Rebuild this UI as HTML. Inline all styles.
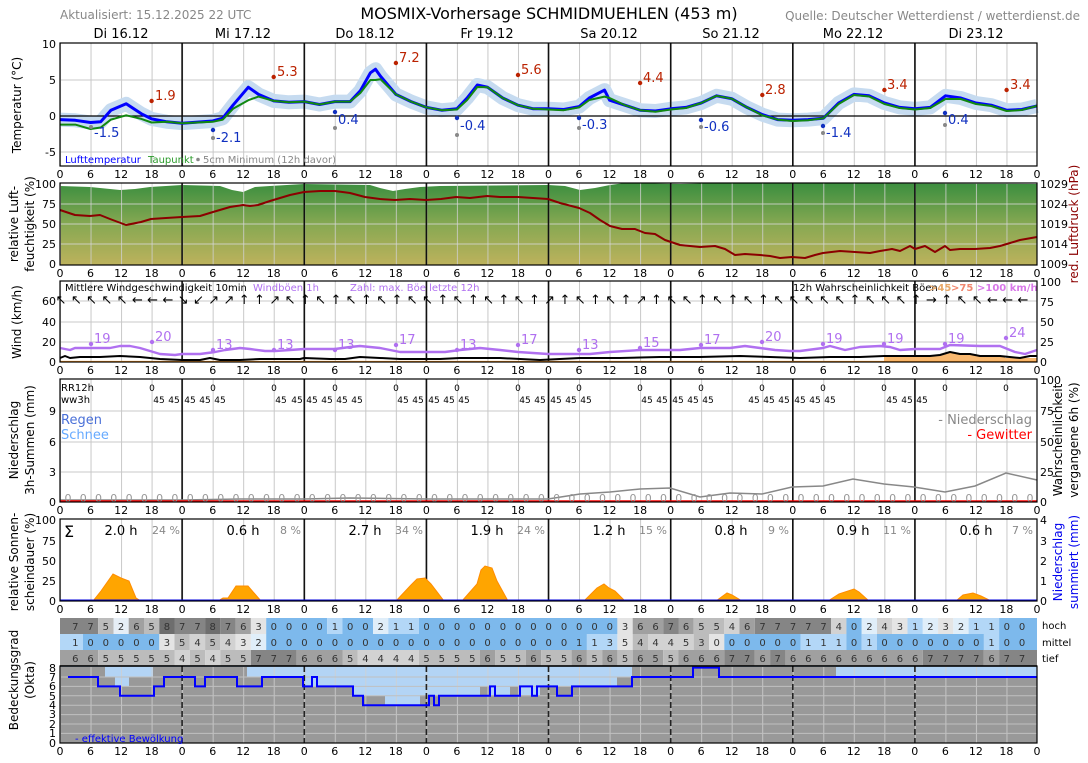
<!DOCTYPE html>
<html><head><meta charset="utf-8"><style>
html,body{margin:0;padding:0;background:#fff}
svg{display:block;font-family:"DejaVu Sans","Liberation Sans",sans-serif}
.t{font-size:11px;fill:#000}
</style></head><body>
<svg width="1088" height="763" viewBox="0 0 1088 763" xmlns="http://www.w3.org/2000/svg">
<defs>
<pattern id="vg" x="60" y="0" width="30.531" height="763" patternUnits="userSpaceOnUse"><line x1="0.5" y1="0" x2="0.5" y2="763" stroke="#c8c8c8" stroke-width="1"/></pattern>
<pattern id="vgw" x="60" y="0" width="30.531" height="763" patternUnits="userSpaceOnUse"><line x1="0.5" y1="0" x2="0.5" y2="763" stroke="#d0d0d0" stroke-opacity="0.8" stroke-width="1"/></pattern>
<linearGradient id="hg" x1="0" y1="0" x2="0" y2="1"><stop offset="0" stop-color="#3b8e3f"/><stop offset="0.5" stop-color="#86a852"/><stop offset="1" stop-color="#bdb25c"/></linearGradient>
<g id="ticks" class="t" text-anchor="middle">
<text x="60">0</text><text x="90.5">6</text><text x="121.1">12</text><text x="151.6">18</text><text x="182.1">0</text><text x="212.7">6</text><text x="243.2">12</text><text x="273.7">18</text><text x="304.2">0</text><text x="334.8">6</text><text x="365.3">12</text><text x="395.8">18</text><text x="426.4">0</text><text x="456.9">6</text><text x="487.4">12</text><text x="518">18</text><text x="548.5">0</text><text x="579">6</text><text x="609.5">12</text><text x="640.1">18</text><text x="670.6">0</text><text x="701.1">6</text><text x="731.7">12</text><text x="762.2">18</text><text x="792.7">0</text><text x="823.3">6</text><text x="853.8">12</text><text x="884.3">18</text><text x="914.8">0</text><text x="945.4">6</text><text x="975.9">12</text><text x="1006.4">18</text><text x="1037">0</text>
</g>
<g id="days" stroke="#111" stroke-width="1.6">
<line x1="182.1" y1="0" x2="182.1" y2="1"/>
</g>
</defs>

<!-- header -->
<text x="60" y="19" font-size="12" fill="#888">Aktualisiert: 15.12.2025 22 UTC</text>
<text x="549" y="19" font-size="16" text-anchor="middle" fill="#000">MOSMIX-Vorhersage SCHMIDMUEHLEN (453 m)</text>
<text x="1080" y="20" font-size="12" fill="#888" text-anchor="end">Quelle: Deutscher Wetterdienst / wetterdienst.de</text>
<g font-size="13" text-anchor="middle" fill="#000">
<text x="121" y="38">Di 16.12</text><text x="243" y="38">Mi 17.12</text><text x="365" y="38">Do 18.12</text><text x="487" y="38">Fr 19.12</text><text x="609" y="38">Sa 20.12</text><text x="731" y="38">So 21.12</text><text x="853" y="38">Mo 22.12</text><text x="976" y="38">Di 23.12</text>
</g>

<!-- axis titles left -->
<g font-size="12" text-anchor="middle" fill="#000">
<text transform="translate(21,105) rotate(-90)">Temperatur (°C)</text>
<text transform="translate(18,224) rotate(-90)">relative Luft-</text>
<text transform="translate(34,224) rotate(-90)">feuchtigkeit (%)</text>
<text transform="translate(21,322) rotate(-90)">Wind (km/h)</text>
<text transform="translate(18,440) rotate(-90)">Niederschlag</text>
<text transform="translate(34,440) rotate(-90)">3h-Summen (mm)</text>
<text transform="translate(18,562) rotate(-90)">relative Sonnen-</text>
<text transform="translate(34,562) rotate(-90)">scheindauer (%)</text>
<text transform="translate(18,680) rotate(-90)">Bedeckungsgrad</text>
<text transform="translate(34,680) rotate(-90)">(Okta)</text>
<text transform="translate(1078,224) rotate(-90)" fill="#8b0000">red. Luftdruck (hPa)</text>
<text transform="translate(1062,440) rotate(-90)">Wahrscheinlichkeit</text>
<text transform="translate(1078,440) rotate(-90)">vergangene 6h (%)</text>
<text transform="translate(1062,562) rotate(-90)" fill="#0000ee">Niederschlag</text>
<text transform="translate(1078,562) rotate(-90)" fill="#0000ee">summiert (mm)</text>
</g>

<!-- ===== Temperature panel ===== -->
<rect x="60" y="43" width="977" height="123" fill="url(#vg)"/>
<g stroke="#c8c8c8"><line x1="60" y1="80" x2="1037" y2="80"/><line x1="60" y1="152" x2="1037" y2="152"/></g>
<polyline fill="none" stroke="#c6dbf0" stroke-width="14" stroke-linejoin="round" points="60,119.6 75.3,120.3 90.5,122.5 100.7,121.8 110.9,110.2 126.2,103.8 141.4,113.8 151.6,118.9 166.9,121.8 182.1,123.2 212.7,121 222.8,118.2 233,105.2 248.3,87.2 258.5,94.4 273.7,100.9 289,102.3 304.3,101.6 319.5,104.5 334.8,101.6 350.1,101.6 360.3,90.8 370.4,72.8 375.5,69.2 380.6,76.4 395.9,94.4 411.1,101.6 426.4,107.4 441.7,110.2 456.9,108.8 467.1,98 477.3,85 487.5,87.2 502.7,98 518,105.2 533.3,108.8 548.5,108.8 563.8,109.5 579.1,106.6 589.3,98 604.5,90.1 609.6,100.2 624.9,105.2 640.1,110.2 655.4,111 670.7,108.8 686,107.4 701.2,103 716.5,95.8 731.7,98.7 747,107.4 762.3,114.6 777.5,119.6 792.8,120.3 808.1,119.6 823.4,118.2 838.6,103 853.9,94.4 869.2,95.8 884.4,103 899.7,107.4 914.9,108.8 930.2,107.4 945.5,95.8 960.8,98 976,103 991.3,105.2 1006.6,110.2 1021.8,109.5 1037,105.9"/>
<line x1="60" y1="116" x2="1037" y2="116" stroke="#000" stroke-width="1.2"/>
<g stroke="#111" stroke-width="1.6"><line x1="182.1" y1="43" x2="182.1" y2="166"/><line x1="304.3" y1="43" x2="304.3" y2="166"/><line x1="426.4" y1="43" x2="426.4" y2="166"/><line x1="548.5" y1="43" x2="548.5" y2="166"/><line x1="670.7" y1="43" x2="670.7" y2="166"/><line x1="792.8" y1="43" x2="792.8" y2="166"/><line x1="914.9" y1="43" x2="914.9" y2="166"/></g>
<polyline fill="none" stroke="#0000ff" stroke-width="3" stroke-linejoin="round" points="60,119.6 75.3,120.3 90.5,122.5 100.7,121.8 110.9,110.2 126.2,103.8 141.4,113.8 151.6,118.9 166.9,121.8 182.1,123.2 212.7,121 222.8,118.2 233,105.2 248.3,87.2 258.5,94.4 273.7,100.9 289,102.3 304.3,101.6 319.5,104.5 334.8,101.6 350.1,101.6 360.3,90.8 370.4,72.8 375.5,69.2 380.6,76.4 395.9,94.4 411.1,101.6 426.4,107.4 441.7,110.2 456.9,108.8 467.1,98 477.3,85 487.5,87.2 502.7,98 518,105.2 533.3,108.8 548.5,108.8 563.8,109.5 579.1,106.6 589.3,98 604.5,90.1 609.6,100.2 624.9,105.2 640.1,110.2 655.4,111 670.7,108.8 686,107.4 701.2,103 716.5,95.8 731.7,98.7 747,107.4 762.3,114.6 777.5,119.6 792.8,120.3 808.1,119.6 823.4,118.2 838.6,103 853.9,94.4 869.2,95.8 884.4,103 899.7,107.4 914.9,108.8 930.2,107.4 945.5,95.8 960.8,98 976,103 991.3,105.2 1006.6,110.2 1021.8,109.5 1037,105.9"/>
<polyline fill="none" stroke="#118811" stroke-width="2" stroke-linejoin="round" points="60,124.6 75.3,124.6 90.5,129 100.7,127.5 110.9,119.6 126.2,115.3 141.4,118.9 151.6,122.5 166.9,121.8 182.1,123.2 212.7,121.8 222.8,119.6 233,108.8 248.3,100.2 258.5,96.6 273.7,100.9 289,102.3 304.3,101.6 319.5,104.5 334.8,101.6 350.1,101.6 360.3,93 370.4,80 375.5,80 380.6,79.3 395.9,94.4 411.1,101.6 426.4,107.4 441.7,110.2 456.9,109.5 467.1,100 477.3,87 487.5,87.2 502.7,98 518,105.2 533.3,108.8 548.5,109.5 563.8,110.2 579.1,107.4 589.3,100 604.5,96.6 609.6,98 624.9,105.2 640.1,110.2 655.4,111.7 670.7,109.5 686,108 701.2,103 716.5,95.8 731.7,98.7 747,107.4 762.3,115.3 777.5,119.6 792.8,121 808.1,120.3 823.4,118.2 838.6,104 853.9,95 869.2,96.5 884.4,104 899.7,108 914.9,109.5 930.2,108 945.5,99 960.8,99 976,104 991.3,106 1006.6,111 1021.8,110 1037,105.9"/>
<!-- max points -->
<g fill="#bb2200" font-size="13">
<circle cx="151.6" cy="101" r="2.2"/><text x="155" y="100">1.9</text>
<circle cx="273.7" cy="77" r="2.2"/><text x="277" y="76">5.3</text>
<circle cx="395.9" cy="63" r="2.2"/><text x="399" y="62">7.2</text>
<circle cx="518" cy="75" r="2.2"/><text x="521" y="74">5.6</text>
<circle cx="640.1" cy="83" r="2.2"/><text x="643" y="82">4.4</text>
<circle cx="762.3" cy="95" r="2.2"/><text x="765" y="94">2.8</text>
<circle cx="884.4" cy="90" r="2.2"/><text x="887" y="89">3.4</text>
<circle cx="1006.6" cy="90" r="2.2"/><text x="1010" y="89">3.4</text>
</g>
<g fill="#888"><circle cx="91" cy="127" r="2"/><circle cx="213" cy="138" r="2"/><circle cx="335" cy="128" r="2"/><circle cx="457" cy="135" r="2"/><circle cx="579" cy="128" r="2"/><circle cx="701" cy="127" r="2"/><circle cx="823" cy="133" r="2"/><circle cx="945" cy="125" r="2"/></g>
<g fill="#1030c0" font-size="13">
<text x="94" y="137">-1.5</text>
<circle cx="213" cy="130" r="2.2"/><text x="216" y="142">-2.1</text>
<circle cx="335" cy="112" r="2.2"/><text x="338" y="124">0.4</text>
<circle cx="457" cy="118" r="2.2"/><text x="460" y="130">-0.4</text>
<circle cx="579" cy="118" r="2.2"/><text x="582" y="129">-0.3</text>
<circle cx="701" cy="120" r="2.2"/><text x="704" y="131">-0.6</text>
<circle cx="823" cy="126" r="2.2"/><text x="826" y="137">-1.4</text>
<circle cx="945" cy="113" r="2.2"/><text x="948" y="124">0.4</text>
</g>
<text x="65" y="163" font-size="10" fill="#0000ff">Lufttemperatur</text>
<text x="148" y="163" font-size="10" fill="#2a9a2a">Taupunkt</text>
<circle cx="198" cy="159.5" r="1.8" fill="#888"/>
<text x="203" y="163" font-size="10" fill="#888">5cm Minimum (12h davor)</text>
<rect x="60" y="43" width="977" height="123" fill="none" stroke="#000" stroke-width="1.2"/>
<g class="t" text-anchor="end"><text x="56" y="48">10</text><text x="56" y="84">5</text><text x="56" y="120">0</text><text x="56" y="156">-5</text></g>
<use href="#ticks" y="178"/>

<!-- ===== Humidity panel ===== -->
<rect x="60" y="183" width="977" height="82" fill="url(#hg)"/>
<polygon fill="#fff" points="60,183 60,186 90,187 120,190 135,189 150,187 182,185 220,186 232,190 243,192 255,187 270,186 304,184 370,185 380,188 393,191 405,189 420,187 440,186 548,185 565,186 580,190 595,188 610,185 625,183 680,184 720,183 1037,184 1037,183"/>
<rect x="60" y="183" width="977" height="82" fill="url(#vgw)"/>
<g stroke="#d8d8d8" stroke-opacity="0.8"><line x1="60" y1="204" x2="1037" y2="204"/><line x1="60" y1="224" x2="1037" y2="224"/><line x1="60" y1="244" x2="1037" y2="244"/></g>
<g stroke="#111" stroke-width="1.6"><line x1="182.1" y1="183" x2="182.1" y2="265"/><line x1="304.3" y1="183" x2="304.3" y2="265"/><line x1="426.4" y1="183" x2="426.4" y2="265"/><line x1="548.5" y1="183" x2="548.5" y2="265"/><line x1="670.7" y1="183" x2="670.7" y2="265"/><line x1="792.8" y1="183" x2="792.8" y2="265"/><line x1="914.9" y1="183" x2="914.9" y2="265"/></g>
<polyline fill="none" stroke="#8b0000" stroke-width="2" stroke-linejoin="round" points="60,210 75,215 90,216 100,215 110,219 126,225 141,222 151,219 166,218 182,217 200,216 213,212 230,207 243,205 250,206 258,205 270,201 290,195 304,192 320,191 335,191 350,193 365,197 380,199 395,200 410,199 426,200 441,199 456,197 470,198 487,196 500,197 518,197 533,198 548,199 560,203 579,208 590,213 600,220 610,226 622,229 635,229 645,233 655,234 665,240 680,245 700,247 715,246 725,249 735,255 745,254 760,255 770,256 780,258 792,257 805,258 815,255 823,253 840,251 855,252 870,253 880,251 892,249 900,251 910,246 915,249 925,246 935,252 945,246 950,250 960,249 975,249 990,248 1000,246 1020,240 1037,237"/>
<rect x="60" y="183" width="977" height="82" fill="none" stroke="#000" stroke-width="1.2"/>
<g class="t" text-anchor="end"><text x="56" y="188">100</text><text x="56" y="208">75</text><text x="56" y="228">50</text><text x="56" y="248">25</text><text x="56" y="268">0</text></g>
<g class="t"><text x="1040" y="188">1029</text><text x="1040" y="208">1024</text><text x="1040" y="228">1019</text><text x="1040" y="248">1014</text><text x="1040" y="268">1009</text></g>
<use href="#ticks" y="277"/>

<!-- ===== Wind panel ===== -->
<rect x="60" y="281" width="977" height="81" fill="url(#vg)"/>
<g stroke="#c8c8c8"><line x1="60" y1="301" x2="1037" y2="301"/><line x1="60" y1="322" x2="1037" y2="322"/><line x1="60" y1="342" x2="1037" y2="342"/></g>
<g stroke="#111" stroke-width="1.6"><line x1="182.1" y1="281" x2="182.1" y2="362"/><line x1="304.3" y1="281" x2="304.3" y2="362"/><line x1="426.4" y1="281" x2="426.4" y2="362"/><line x1="548.5" y1="281" x2="548.5" y2="362"/><line x1="670.7" y1="281" x2="670.7" y2="362"/><line x1="792.8" y1="281" x2="792.8" y2="362"/><line x1="914.9" y1="281" x2="914.9" y2="362"/></g>
<polygon fill="#f8b870" points="884,362 884,357 914,357 940,356 950,353 960,354 975,355 1005,356 1005,358 1037,358 1037,362"/>
<line x1="60" y1="361.5" x2="1037" y2="361.5" stroke="#ff9922" stroke-width="1.2"/>
<polyline fill="none" stroke="#b070f0" stroke-width="2.4" stroke-linejoin="round" points="60,348 70,350 75,348 90,348 110,348 120,346 130,346 140,348 150,351 160,354 175,355 182,354 200,354 215,352 225,350 240,348 250,349 265,351 275,351 290,350 304,349 335,349 350,347 360,346 380,348 400,352 426,352 445,352 460,350 480,348 500,350 518,352 548,354 570,354 590,354 610,352 640,350 660,350 680,350 700,348 730,348 745,346 760,348 775,350 790,351 800,351 823,348 830,346 845,350 860,347 880,346 890,347 900,350 915,349 940,349 950,345 980,346 1000,346 1015,352 1025,354 1037,350"/>
<polyline fill="none" stroke="#000" stroke-width="2" stroke-linejoin="round" points="60,358 65,356 70,358 80,357 100,357 120,356 140,357 160,359 182,360 200,360 210,358 220,360 240,360 260,359 300,359 304,358 330,359 345,359 360,357 380,358 400,359 426,359 440,359 460,358 500,358 540,360 580,358 620,358 660,357 700,357 740,356 770,357 800,358 830,357 860,357 884,356 914,356 930,356 940,355 950,352 960,354 970,354 980,356 1000,356 1020,358 1030,356 1037,356"/>
<g fill="#b070f0" font-size="13">
<circle cx="91" cy="344" r="2.2"/><text x="94" y="343">19</text>
<circle cx="152" cy="342" r="2.2"/><text x="155" y="341">20</text>
<circle cx="213" cy="350" r="2.2"/><text x="216" y="349">13</text>
<circle cx="274" cy="350" r="2.2"/><text x="277" y="349">13</text>
<circle cx="335" cy="350" r="2.2"/><text x="338" y="349">13</text>
<circle cx="396" cy="345" r="2.2"/><text x="399" y="344">17</text>
<circle cx="457" cy="350" r="2.2"/><text x="460" y="349">13</text>
<circle cx="518" cy="345" r="2.2"/><text x="521" y="344">17</text>
<circle cx="579" cy="350" r="2.2"/><text x="582" y="349">13</text>
<circle cx="640" cy="348" r="2.2"/><text x="643" y="347">15</text>
<circle cx="701" cy="345" r="2.2"/><text x="704" y="344">17</text>
<circle cx="762" cy="342" r="2.2"/><text x="765" y="341">20</text>
<circle cx="823" cy="344" r="2.2"/><text x="826" y="343">19</text>
<circle cx="884" cy="344" r="2.2"/><text x="887" y="343">19</text>
<circle cx="945" cy="344" r="2.2"/><text x="948" y="343">19</text>
<circle cx="1006" cy="338" r="2.2"/><text x="1009" y="337">24</text>
</g>
<text font-size="13" fill="#000" text-anchor="middle" y="304" x="61 76.3 91.5 106.8 122.1 137.4 152.6 167.9 183.2 198.4 213.7 229 244.2 259.5 274.8 290.1 305.3 320.6 335.9 351.1 366.4 381.7 396.9 412.2 427.5 442.8 458 473.3 488.6 503.8 519.1 534.4 549.6 564.9 580.2 595.5 610.7 626 641.3 656.5 671.8 687.1 702.3 717.6 732.9 748.2 763.4 778.7 794 809.2 824.5 839.8 855 870.3 885.6 900.9 916.1 931.4 946.7 961.9 977.2 992.5 1007.7 1023">↖↖↖↖↖←←←↘↙↗↗↑↑↗↖↑↖↑↖↑↖↑↖↖↑↖↑↖↑↖↑↗↑↖↑↖↑↗↑↖↖↑↖↑↖↑↖↖↖↖↖↑↖↖↖↑→↑↖↖←←←</text>
<text x="65" y="291" font-size="10" fill="#000">Mittlere Windgeschwindigkeit 10min</text>
<text x="253" y="291" font-size="10" fill="#b070f0">Windböen 1h</text>
<text x="350" y="291" font-size="10" fill="#b070f0">Zahl: max. Böe letzte 12h</text>
<text x="793" y="291" font-size="10" fill="#000">12h Wahrscheinlichkeit Böen</text>
<text x="929" y="291" font-size="10" font-weight="bold" fill="#e8a868">&gt;45</text>
<text x="951" y="291" font-size="10" font-weight="bold" fill="#f08870">&gt;75</text>
<text x="977" y="291" font-size="10" font-weight="bold" fill="#d878e8">&gt;100 km/h</text>
<rect x="60" y="281" width="977" height="81" fill="none" stroke="#000" stroke-width="1.2"/>
<g class="t" text-anchor="end"><text x="56" y="305">60</text><text x="56" y="326">40</text><text x="56" y="346">20</text><text x="56" y="366">0</text></g>
<g class="t"><text x="1040" y="286">100</text><text x="1040" y="306">75</text><text x="1040" y="326">50</text><text x="1040" y="346">25</text><text x="1040" y="366">0</text></g>
<use href="#ticks" y="374"/>

<!-- ===== Precip panel ===== -->
<rect x="60" y="379" width="977" height="123" fill="url(#vg)"/>
<g stroke="#c8c8c8"><line x1="60" y1="411" x2="1037" y2="411"/><line x1="60" y1="442" x2="1037" y2="442"/><line x1="60" y1="472" x2="1037" y2="472"/></g>
<g stroke="#111" stroke-width="1.6"><line x1="182.1" y1="379" x2="182.1" y2="502"/><line x1="304.3" y1="379" x2="304.3" y2="502"/><line x1="426.4" y1="379" x2="426.4" y2="502"/><line x1="548.5" y1="379" x2="548.5" y2="502"/><line x1="670.7" y1="379" x2="670.7" y2="502"/><line x1="792.8" y1="379" x2="792.8" y2="502"/><line x1="914.9" y1="379" x2="914.9" y2="502"/></g>
<polyline fill="none" stroke="#888" stroke-width="1.5" points="60,500 182,500 240,499 304,499 350,498 426,499 548,499 580,494 610,492 640,489 670,488 700,497 730,493 762,494 792,487 823,486 853,479 884,484 914,487 945,492 975,486 1006,473 1037,480"/>
<line x1="60" y1="501" x2="1037" y2="501" stroke="#ff0000" stroke-width="1.5"/>
<text font-size="11" fill="#999" text-anchor="middle" y="502" x="68 83.3 98.5 113.8 129.1 144.4 159.6 174.9 190.2 205.4 220.7 236 251.2 266.5 281.8 297.1 312.3 327.6 342.9 358.1 373.4 388.7 403.9 419.2 434.5 449.8 465 480.3 495.6 510.8 526.1 541.4 556.6 571.9 587.2 602.5 617.7 633 648.3 663.5 678.8 694.1 709.3 724.6 739.9 755.2 770.4 785.7 801 816.2 831.5 846.8 862 877.3 892.6 907.9 923.1 938.4 953.7 968.9 984.2 999.5 1014.7 1030">0000000000000000000000000000000000000000000000000000000000000000</text>
<text x="61" y="391" font-size="10">RR12h</text>
<text x="61" y="403" font-size="10">ww3h</text>
<text font-size="9" text-anchor="middle" y="391" x="152 213 274 335 396 457 518 579 640 701 762 823 884 945 1006">000000000000000</text>
<g font-size="9" text-anchor="middle">
<text x="159" y="403">45</text><text x="174" y="403">45</text><text x="190" y="403">45</text><text x="205" y="403">45</text><text x="220" y="403">45</text>
<text x="281" y="403">45</text><text x="297" y="403">45</text><text x="312" y="403">45</text><text x="327" y="403">45</text><text x="342" y="403">45</text><text x="357" y="403">45</text>
<text x="403" y="403">45</text><text x="418" y="403">45</text><text x="434" y="403">45</text><text x="449" y="403">45</text><text x="464" y="403">45</text>
<text x="525" y="403">45</text><text x="540" y="403">45</text><text x="556" y="403">45</text><text x="571" y="403">45</text><text x="586" y="403">45</text>
<text x="647" y="403">45</text><text x="662" y="403">45</text><text x="678" y="403">45</text><text x="693" y="403">45</text><text x="708" y="403">45</text>
<text x="754" y="403">45</text><text x="769" y="403">45</text><text x="784" y="403">45</text><text x="800" y="403">45</text><text x="815" y="403">45</text><text x="830" y="403">45</text>
<text x="892" y="403">45</text><text x="907" y="403">45</text><text x="922" y="403">45</text>
</g>
<text x="61" y="424" font-size="13" fill="#4a70d8">Regen</text>
<text x="61" y="439" font-size="13" fill="#66aaff">Schnee</text>
<text x="1032" y="424" font-size="13" fill="#888" text-anchor="end">- Niederschlag</text>
<text x="1032" y="439" font-size="13" fill="#ff0000" text-anchor="end">- Gewitter</text>
<rect x="60" y="379" width="977" height="123" fill="none" stroke="#000" stroke-width="1.2"/>
<g class="t" text-anchor="end"><text x="56" y="415">9</text><text x="56" y="446">6</text><text x="56" y="476">3</text><text x="56" y="506">0</text></g>
<g class="t"><text x="1040" y="384">100</text><text x="1040" y="415">75</text><text x="1040" y="446">50</text><text x="1040" y="476">25</text><text x="1040" y="506">0</text></g>
<use href="#ticks" y="514"/>

<!-- ===== Sunshine panel ===== -->
<rect x="60" y="519" width="977" height="82" fill="url(#vg)"/>
<g stroke="#111" stroke-width="1.6"><line x1="182.1" y1="519" x2="182.1" y2="601"/><line x1="304.3" y1="519" x2="304.3" y2="601"/><line x1="426.4" y1="519" x2="426.4" y2="601"/><line x1="548.5" y1="519" x2="548.5" y2="601"/><line x1="670.7" y1="519" x2="670.7" y2="601"/><line x1="792.8" y1="519" x2="792.8" y2="601"/><line x1="914.9" y1="519" x2="914.9" y2="601"/></g>
<g fill="#ffa500" stroke="#ff8c00" stroke-width="1">
<polygon points="93,601 101,591 113,574 121,578 129,581 136,598 141,601"/>
<polygon points="218,601 223,598 228,598 236,586 248,586 261,601"/>
<polygon points="396,601 411,585 417,579 425,578 431,584 444,601"/>
<polygon points="462,601 477,584 481,570 485,566 492,568 497,581 508,601"/>
<polygon points="584,601 597,588 604,584 609,588 615,591 625,601"/>
<polygon points="716,601 727,593 732,595 742,601"/>
<polygon points="828,601 839,594 854,589 859,592 869,601"/>
<polygon points="956,601 963,595 973,593 981,596 991,601"/>
</g>
<line x1="60" y1="600.5" x2="1037" y2="600.5" stroke="#0000dd" stroke-width="2"/>
<text x="64" y="537" font-size="16">Σ</text>
<g font-size="13" text-anchor="middle"><text x="121" y="535">2.0 h</text><text x="243" y="535">0.6 h</text><text x="365" y="535">2.7 h</text><text x="487" y="535">1.9 h</text><text x="609" y="535">1.2 h</text><text x="731" y="535">0.8 h</text><text x="853" y="535">0.9 h</text><text x="976" y="535">0.6 h</text></g>
<g font-size="11" text-anchor="end" fill="#888"><text x="180" y="534">24 %</text><text x="301" y="534">8 %</text><text x="423" y="534">34 %</text><text x="545" y="534">24 %</text><text x="667" y="534">15 %</text><text x="789" y="534">9 %</text><text x="911" y="534">11 %</text><text x="1033" y="534">7 %</text></g>
<rect x="60" y="519" width="977" height="82" fill="none" stroke="#000" stroke-width="1.2"/>
<g class="t" text-anchor="end"><text x="56" y="524">100</text><text x="56" y="545">75</text><text x="56" y="565">50</text><text x="56" y="585">25</text><text x="56" y="605">0</text></g>
<g class="t"><text x="1040" y="524">4</text><text x="1040" y="545">3</text><text x="1040" y="565">2</text><text x="1040" y="585">1</text><text x="1040" y="605">0</text></g>
<use href="#ticks" y="613"/>

<!-- ===== Cloud table ===== -->
<g>
<!-- hoch -->
<rect x="60" y="618" width="38.2" height="16" fill="#858585"/><rect x="98.2" y="618" width="15.3" height="16" fill="#bcbcbc"/><rect x="113.5" y="618" width="15.2" height="16" fill="#e6eef6"/><rect x="128.7" y="618" width="15.3" height="16" fill="#a0a0a0"/><rect x="144" y="618" width="15.3" height="16" fill="#bcbcbc"/><rect x="159.3" y="618" width="15.2" height="16" fill="#6e6e6e"/><rect x="174.5" y="618" width="30.6" height="16" fill="#858585"/><rect x="205.1" y="618" width="15.2" height="16" fill="#6e6e6e"/><rect x="220.3" y="618" width="15.3" height="16" fill="#858585"/><rect x="235.6" y="618" width="15.3" height="16" fill="#a0a0a0"/><rect x="250.9" y="618" width="15.3" height="16" fill="#e4e4e4"/><rect x="266.2" y="618" width="61" height="16" fill="#7db9ec"/><rect x="327.2" y="618" width="15.3" height="16" fill="#b3d7f7"/><rect x="342.5" y="618" width="30.6" height="16" fill="#7db9ec"/><rect x="373.1" y="618" width="15.2" height="16" fill="#e0eef9"/><rect x="388.3" y="618" width="30.6" height="16" fill="#b3d7f7"/><rect x="418.9" y="618" width="198.5" height="16" fill="#7db9ec"/><rect x="617.4" y="618" width="15.3" height="16" fill="#e4e4e4"/><rect x="632.7" y="618" width="30.5" height="16" fill="#a0a0a0"/><rect x="663.2" y="618" width="15.3" height="16" fill="#858585"/><rect x="678.5" y="618" width="15.2" height="16" fill="#a0a0a0"/><rect x="693.7" y="618" width="30.6" height="16" fill="#bcbcbc"/><rect x="724.3" y="618" width="15.2" height="16" fill="#d2d2d2"/><rect x="739.5" y="618" width="15.3" height="16" fill="#a0a0a0"/><rect x="754.8" y="618" width="76.4" height="16" fill="#858585"/><rect x="831.2" y="618" width="15.2" height="16" fill="#d2d2d2"/><rect x="846.4" y="618" width="15.3" height="16" fill="#7db9ec"/><rect x="861.7" y="618" width="15.3" height="16" fill="#e0eef9"/><rect x="877" y="618" width="15.3" height="16" fill="#d2d2d2"/><rect x="892.3" y="618" width="15.2" height="16" fill="#e4e4e4"/><rect x="907.5" y="618" width="15.3" height="16" fill="#b3d7f7"/><rect x="922.8" y="618" width="15.3" height="16" fill="#e0eef9"/><rect x="938.1" y="618" width="15.2" height="16" fill="#e4e4e4"/><rect x="953.3" y="618" width="15.3" height="16" fill="#e0eef9"/><rect x="968.6" y="618" width="30.5" height="16" fill="#b3d7f7"/><rect x="999.1" y="618" width="37.9" height="16" fill="#7db9ec"/>
<!-- mittel -->
<rect x="60" y="634" width="23" height="16" fill="#b3d7f7"/><rect x="83" y="634" width="76.3" height="16" fill="#7db9ec"/><rect x="159.3" y="634" width="15.2" height="16" fill="#e4e4e4"/><rect x="174.5" y="634" width="15.3" height="16" fill="#bcbcbc"/><rect x="189.8" y="634" width="15.3" height="16" fill="#d2d2d2"/><rect x="205.1" y="634" width="15.2" height="16" fill="#bcbcbc"/><rect x="220.3" y="634" width="15.3" height="16" fill="#d2d2d2"/><rect x="235.6" y="634" width="15.3" height="16" fill="#e4e4e4"/><rect x="250.9" y="634" width="15.3" height="16" fill="#e0eef9"/><rect x="266.2" y="634" width="320.7" height="16" fill="#7db9ec"/><rect x="586.9" y="634" width="30.5" height="16" fill="#b3d7f7"/><rect x="617.4" y="634" width="15.3" height="16" fill="#e4e4e4"/><rect x="632.7" y="634" width="15.3" height="16" fill="#bcbcbc"/><rect x="648" y="634" width="45.7" height="16" fill="#d2d2d2"/><rect x="693.7" y="634" width="15.3" height="16" fill="#bcbcbc"/><rect x="709" y="634" width="15.3" height="16" fill="#e4e4e4"/><rect x="724.3" y="634" width="76.4" height="16" fill="#7db9ec"/><rect x="800.7" y="634" width="45.7" height="16" fill="#b3d7f7"/><rect x="846.4" y="634" width="15.3" height="16" fill="#7db9ec"/><rect x="861.7" y="634" width="15.3" height="16" fill="#b3d7f7"/><rect x="877" y="634" width="106.9" height="16" fill="#7db9ec"/><rect x="983.9" y="634" width="15.2" height="16" fill="#b3d7f7"/><rect x="999.1" y="634" width="37.9" height="16" fill="#7db9ec"/>
<!-- tief -->
<rect x="60" y="650" width="38.2" height="16" fill="#a0a0a0"/><rect x="98.2" y="650" width="76.3" height="16" fill="#bcbcbc"/><rect x="174.5" y="650" width="15.3" height="16" fill="#d2d2d2"/><rect x="189.8" y="650" width="15.3" height="16" fill="#bcbcbc"/><rect x="205.1" y="650" width="15.2" height="16" fill="#d2d2d2"/><rect x="220.3" y="650" width="30.6" height="16" fill="#bcbcbc"/><rect x="250.9" y="650" width="45.8" height="16" fill="#858585"/><rect x="296.7" y="650" width="45.8" height="16" fill="#a0a0a0"/><rect x="342.5" y="650" width="15.3" height="16" fill="#bcbcbc"/><rect x="357.8" y="650" width="61.1" height="16" fill="#d2d2d2"/><rect x="418.9" y="650" width="61.1" height="16" fill="#bcbcbc"/><rect x="480" y="650" width="15.3" height="16" fill="#a0a0a0"/><rect x="495.3" y="650" width="30.5" height="16" fill="#bcbcbc"/><rect x="525.8" y="650" width="15.3" height="16" fill="#a0a0a0"/><rect x="541.1" y="650" width="30.5" height="16" fill="#bcbcbc"/><rect x="571.6" y="650" width="15.3" height="16" fill="#a0a0a0"/><rect x="586.9" y="650" width="15.3" height="16" fill="#bcbcbc"/><rect x="602.2" y="650" width="15.2" height="16" fill="#a0a0a0"/><rect x="617.4" y="650" width="15.3" height="16" fill="#bcbcbc"/><rect x="632.7" y="650" width="30.5" height="16" fill="#a0a0a0"/><rect x="663.2" y="650" width="15.3" height="16" fill="#bcbcbc"/><rect x="678.5" y="650" width="45.8" height="16" fill="#a0a0a0"/><rect x="724.3" y="650" width="30.5" height="16" fill="#858585"/><rect x="754.8" y="650" width="15.3" height="16" fill="#a0a0a0"/><rect x="770.1" y="650" width="15.3" height="16" fill="#858585"/><rect x="785.4" y="650" width="137.4" height="16" fill="#a0a0a0"/><rect x="922.8" y="650" width="61" height="16" fill="#858585"/><rect x="983.8" y="650" width="15.3" height="16" fill="#a0a0a0"/><rect x="999.1" y="650" width="37.9" height="16" fill="#858585"/>
</g>
<g font-size="10" fill="#333" text-anchor="middle">
<text y="630" x="75.3 90.6 105.8 121.1 136.4 151.6 166.9 182.2 197.5 212.7 228 243.3 258.5 273.8 289.1 304.4 319.6 334.9 350.2 365.4 380.7 396 411.2 426.5 441.8 457.1 472.3 487.6 502.9 518.1 533.4 548.7 564 579.2 594.5 609.8 625 640.3 655.6 670.8 686.1 701.4 716.7 731.9 747.2 762.5 777.7 793 808.3 823.6 838.8 854.1 869.4 884.6 899.9 915.2 930.4 945.7 961 976.3 991.5 1006.8 1022.1">775265877876300001002110000000000000366765546777774024312321100</text>
<text y="646" x="75.3 90.6 105.8 121.1 136.4 151.6 166.9 182.2 197.5 212.7 228 243.3 258.5 273.8 289.1 304.4 319.6 334.9 350.2 365.4 380.7 396 411.2 426.5 441.8 457.1 472.3 487.6 502.9 518.1 533.4 548.7 564 579.2 594.5 609.8 625 640.3 655.6 670.8 686.1 701.4 716.7 731.9 747.2 762.5 777.7 793 808.3 823.6 838.8 854.1 869.4 884.6 899.9 915.2 930.4 945.7 961 976.3 991.5 1006.8 1022.1">100000354543200000000000000000000113544453000000111010000000100</text>
<text y="662" x="75.3 90.6 105.8 121.1 136.4 151.6 166.9 182.2 197.5 212.7 228 243.3 258.5 273.8 289.1 304.4 319.6 334.9 350.2 365.4 380.7 396 411.2 426.5 441.8 457.1 472.3 487.6 502.9 518.1 533.4 548.7 564 579.2 594.5 609.8 625 640.3 655.6 670.8 686.1 701.4 716.7 731.9 747.2 762.5 777.7 793 808.3 823.6 838.8 854.1 869.4 884.6 899.9 915.2 930.4 945.7 961 976.3 991.5 1006.8 1022.1">665555545455777666544445555655655656565566677676666666667777677</text>
</g>
<g font-size="10" fill="#000"><text x="1042" y="629">hoch</text><text x="1042" y="646">mittel</text><text x="1042" y="662">tief</text></g>

<!-- ===== Cloud chart ===== -->
<rect x="60" y="666" width="977" height="77" fill="#b3d4f5"/>
<polygon fill="#999" points="60,743 60,667 105,667 105,677 115,677 115,686 129,686 129,677 153,677 153,667 247,667 247,677 305,677 305,687 352,687 352,696 385,696 385,705 420,705 420,695 480,695 480,686 490,686 490,695 510,695 510,686 520,686 520,695 540,695 540,686 617,686 617,677 632,677 632,667 836,667 836,677 1037,677 1037,743"/>
<rect x="60" y="666" width="977" height="77" fill="url(#vgw)"/>
<g stroke="#c0c0c0" stroke-width="1"><line x1="60" y1="677" x2="1037" y2="677"/><line x1="60" y1="686.4" x2="1037" y2="686.4"/><line x1="60" y1="695.8" x2="1037" y2="695.8"/><line x1="60" y1="705.2" x2="1037" y2="705.2"/><line x1="60" y1="714.6" x2="1037" y2="714.6"/><line x1="60" y1="724" x2="1037" y2="724"/><line x1="60" y1="733.4" x2="1037" y2="733.4"/></g>
<g stroke="#222" stroke-width="1.6" stroke-dasharray="6,3"><line x1="182.1" y1="666" x2="182.1" y2="743"/><line x1="304.3" y1="666" x2="304.3" y2="743"/><line x1="426.4" y1="666" x2="426.4" y2="743"/><line x1="548.5" y1="666" x2="548.5" y2="743"/><line x1="670.7" y1="666" x2="670.7" y2="743"/><line x1="792.8" y1="666" x2="792.8" y2="743"/><line x1="914.9" y1="666" x2="914.9" y2="743"/></g>
<polyline fill="none" stroke="#0000ff" stroke-width="2" points="68,677 98,677 98,686.4 120,686.4 120,695.8 154,695.8 154,686.4 164,686.4 164,677 195,677 195,686.4 205,686.4 205,677 237,677 237,686.4 262,686.4 262,677 303,677 303,686.4 312,686.4 312,677 317,677 317,686.4 353,686.4 353,695.8 363,695.8 363,705.2 429,705.2 429,695.8 434,695.8 434,705.2 439,705.2 439,695.8 490,695.8 490,686.4 495,686.4 495,695.8 520,695.8 520,686.4 532,686.4 532,695.8 537,695.8 537,686.4 557,686.4 557,695.8 572,695.8 572,686.4 632,686.4 632,677 693,677 693,667.6 719,667.6 719,677 1037,677"/>
<line x1="60" y1="666" x2="1037" y2="666" stroke="#000" stroke-width="1.5"/>
<rect x="60" y="666" width="977" height="77" fill="none" stroke="#000" stroke-width="1.2"/>
<text x="75" y="742" font-size="10" fill="#0000ff">- effektive Bewölkung</text>
<g class="t" text-anchor="end"><text x="56" y="672">8</text><text x="56" y="681">7</text><text x="56" y="690">6</text><text x="56" y="700">5</text><text x="56" y="709">4</text><text x="56" y="718">3</text><text x="56" y="728">2</text><text x="56" y="737">1</text><text x="56" y="747">0</text></g>
<use href="#ticks" y="755"/>
</svg>
</body></html>
